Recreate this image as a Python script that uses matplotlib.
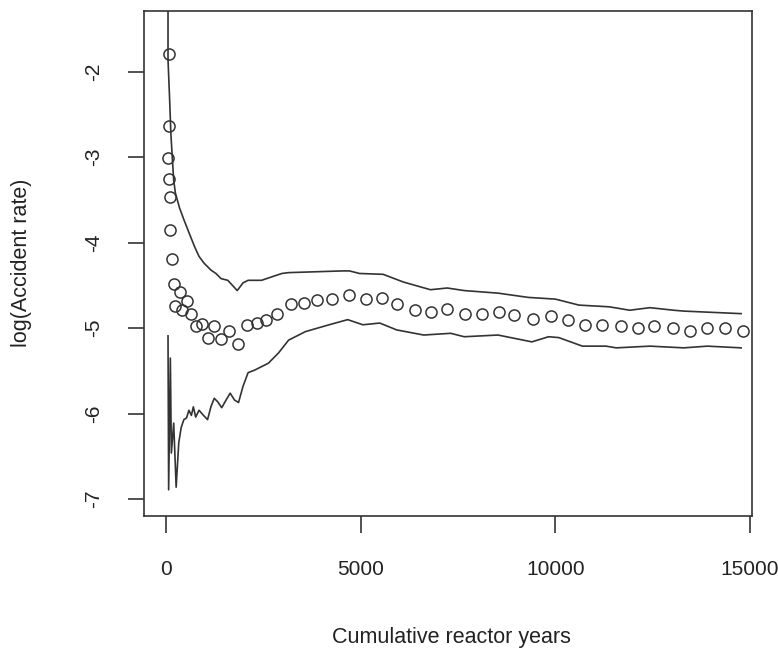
#!/usr/bin/env python3
"""Cumulative accident rate vs reactor years, with upper/lower bounds (R-style base plot)."""
import matplotlib
matplotlib.use("Agg")
import matplotlib.pyplot as plt

# point estimates: cumulative reactor years vs log(accident rate)
point_x = [60, 60, 44, 60, 104, 104, 157, 190, 216, 347, 409, 520, 625, 755, 930,
           1075, 1216, 1406, 1623, 1841, 2083, 2318, 2565, 2846, 3203, 3533, 3880,
           4253, 4687, 5122, 5539, 5937, 6380, 6815, 7221, 7682, 8106, 8542, 8932,
           9419, 9896, 10330, 10763, 11197, 11674, 12128, 12544, 13013, 13455,
           13906, 14367, 14818]
point_y = [-1.79, -2.64, -3.01, -3.25, -3.46, -3.85, -4.19, -4.48, -4.74, -4.58,
           -4.79, -4.68, -4.83, -4.97, -4.95, -5.11, -4.97, -5.13, -5.03, -5.18,
           -4.96, -4.94, -4.91, -4.83, -4.72, -4.70, -4.67, -4.66, -4.61, -4.66,
           -4.65, -4.72, -4.79, -4.81, -4.78, -4.83, -4.83, -4.81, -4.85, -4.89,
           -4.86, -4.91, -4.96, -4.96, -4.98, -5.00, -4.97, -5.00, -5.03, -5.00,
           -5.00, -5.03]

# upper bound
upper_x = [44, 44, 86, 117, 157, 190, 234, 338, 451, 624, 730, 841, 971, 1146,
           1276, 1406, 1580, 1823, 1971, 2102, 2447, 2708, 2969, 3142, 4531, 4705,
           4965, 5572, 6093, 6788, 7220, 7656, 8523, 9304, 9999, 10605, 11386,
           11908, 12428, 13037, 13298, 14772]
upper_y = [-1.0, -1.86, -2.33, -2.72, -3.03, -3.27, -3.42, -3.59, -3.73, -3.93,
           -4.05, -4.16, -4.24, -4.32, -4.36, -4.42, -4.44, -4.56, -4.47, -4.44,
           -4.44, -4.40, -4.36, -4.35, -4.33, -4.33, -4.36, -4.37, -4.46, -4.55,
           -4.53, -4.56, -4.59, -4.64, -4.66, -4.73, -4.75, -4.79, -4.76, -4.79,
           -4.80, -4.83]

# lower bound
lower_x = [44, 60, 104, 130, 190, 253, 320, 383, 451, 520, 581, 644, 695, 755, 841,
           956, 1060, 1146, 1232, 1320, 1425, 1536, 1641, 1752, 1856, 1971, 2102,
           2273, 2447, 2622, 2883, 3142, 3575, 4184, 4661, 5051, 5486, 5919, 6614,
           7309, 7656, 8523, 9394, 9824, 10085, 10694, 11300, 11561, 12428, 13298,
           13906, 14772]
lower_y = [-5.09, -6.89, -5.35, -6.46, -6.11, -6.86, -6.34, -6.16, -6.07, -6.05,
           -5.96, -6.02, -5.92, -6.04, -5.96, -6.02, -6.07, -5.92, -5.82, -5.86,
           -5.93, -5.84, -5.76, -5.84, -5.87, -5.68, -5.52, -5.49, -5.45, -5.41,
           -5.29, -5.14, -5.04, -4.96, -4.90, -4.96, -4.94, -5.02, -5.08, -5.06,
           -5.10, -5.08, -5.16, -5.10, -5.11, -5.21, -5.21, -5.23, -5.21, -5.23,
           -5.21, -5.23]

x_ticks = [0, 5000, 10000, 15000]
y_ticks = [-7, -6, -5, -4, -3, -2]

plt.rcParams["font.family"] = ["Liberation Sans", "DejaVu Sans"]
ink = "#333333"

fig = plt.figure(figsize=(7.78, 6.57), dpi=100)
ax = fig.add_axes([0.1851, 0.2146, 0.7815, 0.7694])

ax.plot(upper_x, upper_y, color=ink, lw=1.2)
ax.plot(lower_x, lower_y, color=ink, lw=1.2)
ax.plot(point_x, point_y, "o", mfc="none", mec=ink, mew=1.1, ms=8, ls="none")

ax.set_xlim(-573, 15052)
ax.set_ylim(-7.197, -1.284)
ax.set_xticks(x_ticks)
ax.set_yticks(y_ticks)
ax.set_yticklabels([str(v) for v in y_ticks])

for side in ax.spines.values():
    side.set_color(ink)
    side.set_linewidth(1.2)
ax.tick_params(axis="x", length=12, width=1.2, color=ink, pad=20, labelsize=15,
               labelcolor="#222222")
ax.tick_params(axis="y", length=11.5, width=1.2, color=ink, pad=18, labelsize=15,
               labelcolor="#222222")
for lab in ax.get_yticklabels():
    lab.set_rotation(90)
    lab.set_va("center")

fig.text(22 / 778, 1 - 263 / 657, "log(Accident rate)", rotation=90, ha="center",
         va="center", fontsize=15.5, color="#222222")
fig.text(451 / 778, 1 - 637 / 657, "Cumulative reactor years", ha="center",
         va="center", fontsize=15.5, color="#222222")

fig.savefig("out.png", dpi=100)
